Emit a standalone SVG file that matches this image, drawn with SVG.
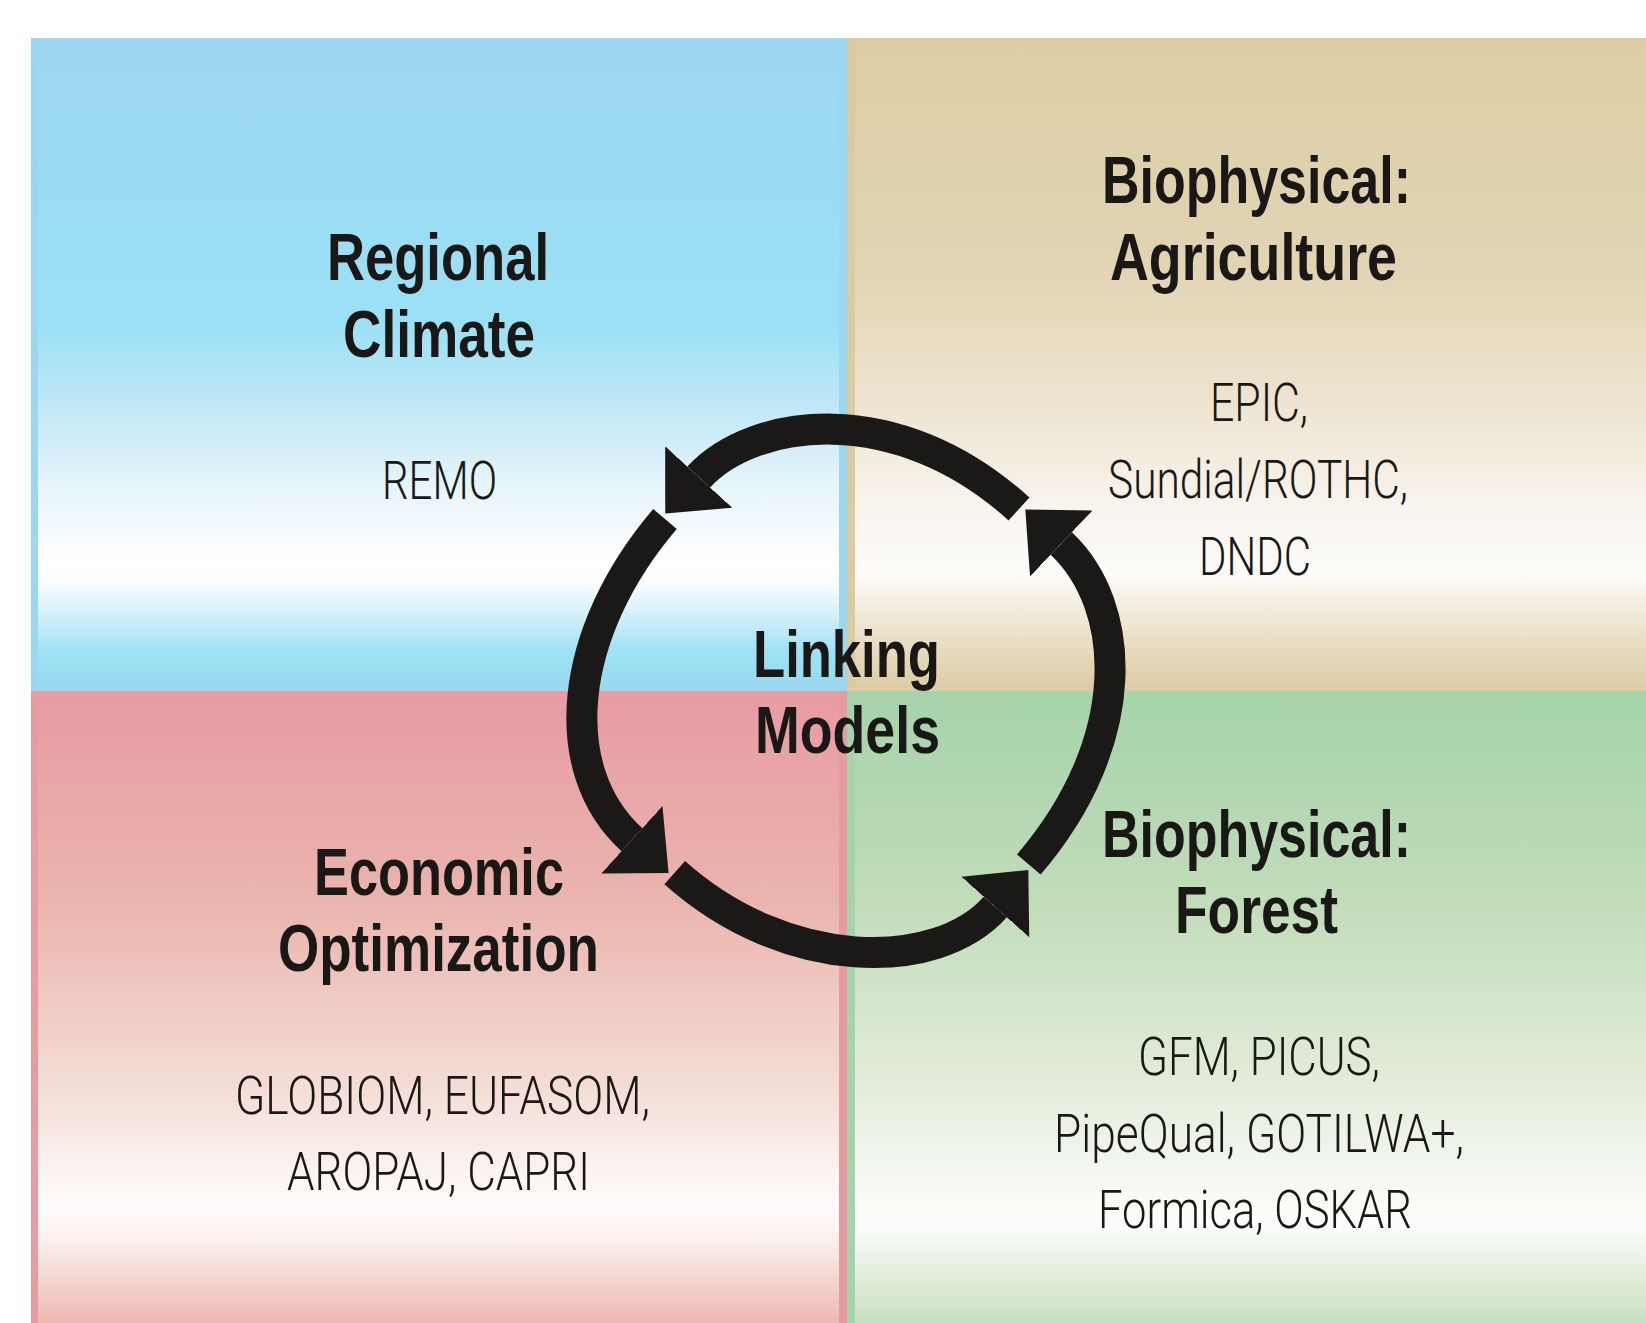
<svg xmlns="http://www.w3.org/2000/svg" width="1646" height="1323" viewBox="0 0 1646 1323">
<style>
.title{font-family:"Liberation Sans Narrow","Liberation Sans","DejaVu Sans Condensed",sans-serif;font-weight:700;font-size:67px;fill:#1a1816}
.list{font-family:Roboto,"Liberation Sans Narrow","Liberation Sans",sans-serif;font-weight:300;font-size:53px;fill:#1a1816}
.link{fill:none;stroke:#1b1917;stroke-width:31;stroke-linecap:butt}
</style>
<defs>
<linearGradient id="gBlue" x1="0" y1="0" x2="0" y2="1">
<stop offset="0" stop-color="#9dd7f1"/>
<stop offset="0.44" stop-color="#9be1f5"/>
<stop offset="0.56" stop-color="#c0e7f6"/>
<stop offset="0.69" stop-color="#e7f5fb"/>
<stop offset="0.80" stop-color="#ffffff"/>
<stop offset="0.83" stop-color="#fcfeff"/>
<stop offset="0.90" stop-color="#c6ebf8"/>
<stop offset="0.94" stop-color="#9de2f5"/>
<stop offset="1" stop-color="#9ad7ee"/>
</linearGradient>
<linearGradient id="gTan" x1="0" y1="0" x2="0" y2="1">
<stop offset="0" stop-color="#ddcda5"/>
<stop offset="0.35" stop-color="#e2d4b3"/>
<stop offset="0.55" stop-color="#ede3cf"/>
<stop offset="0.72" stop-color="#f8f4ee"/>
<stop offset="0.82" stop-color="#fdfcfa"/>
<stop offset="0.91" stop-color="#ece2cb"/>
<stop offset="1" stop-color="#dccaa2"/>
</linearGradient>
<linearGradient id="gPink" x1="0" y1="0" x2="0" y2="1">
<stop offset="0" stop-color="#e89ba3"/>
<stop offset="0.33" stop-color="#eab4ad"/>
<stop offset="0.65" stop-color="#f5e0da"/>
<stop offset="0.81" stop-color="#fefcfb"/>
<stop offset="0.86" stop-color="#fbf3f1"/>
<stop offset="1" stop-color="#eeb9b1"/>
</linearGradient>
<linearGradient id="gGreen" x1="0" y1="0" x2="0" y2="1">
<stop offset="0" stop-color="#a5d3aa"/>
<stop offset="0.33" stop-color="#c1dcb9"/>
<stop offset="0.62" stop-color="#e3ecda"/>
<stop offset="0.84" stop-color="#fdfefc"/>
<stop offset="1" stop-color="#c9dfc0"/>
</linearGradient>
<marker id="head" markerUnits="userSpaceOnUse" viewBox="0 -46 50 92" refX="0" refY="0" markerWidth="50" markerHeight="92" orient="auto">
<polygon points="0,-45.5 49.5,0 0,45.5" fill="#1b1917"/>
</marker>
</defs>
<rect width="1646" height="1323" fill="#ffffff"/>

<g id="regional-climate">
<rect x="31" y="38" width="816" height="653" fill="url(#gBlue)"/>
<rect x="31" y="38" width="7" height="653" fill="#9bd7ef"/>
<rect x="839" y="38" width="8" height="653" fill="#9bd7ef"/>
<text class="title" x="327" y="280" textLength="222" lengthAdjust="spacingAndGlyphs">Regional</text>
<text class="title" x="343" y="357" textLength="192" lengthAdjust="spacingAndGlyphs">Climate</text>
<text class="list" x="382" y="499" textLength="115" lengthAdjust="spacingAndGlyphs">REMO</text>
</g>

<g id="biophysical-agriculture">
<rect x="847" y="38" width="799" height="653" fill="url(#gTan)"/>
<rect x="847" y="38" width="8" height="653" fill="#dccaa1"/>
<text class="title" x="1102" y="203" textLength="309" lengthAdjust="spacingAndGlyphs">Biophysical:</text>
<text class="title" x="1110" y="280" textLength="287" lengthAdjust="spacingAndGlyphs">Agriculture</text>
<text class="list" x="1210" y="421" textLength="98" lengthAdjust="spacingAndGlyphs">EPIC,</text>
<text class="list" x="1108" y="498" textLength="300" lengthAdjust="spacingAndGlyphs">Sundial/ROTHC,</text>
<text class="list" x="1199" y="575" textLength="112" lengthAdjust="spacingAndGlyphs">DNDC</text>
</g>

<g id="economic-optimization">
<rect x="31" y="691" width="816" height="632" fill="url(#gPink)"/>
<rect x="31" y="691" width="7" height="632" fill="#e79ca5"/>
<rect x="839" y="691" width="8" height="632" fill="#e89aa3"/>
<text class="title" x="314" y="895" textLength="250" lengthAdjust="spacingAndGlyphs">Economic</text>
<text class="title" x="278" y="971" textLength="321" lengthAdjust="spacingAndGlyphs">Optimization</text>
<text class="list" x="235" y="1114" textLength="415" lengthAdjust="spacingAndGlyphs">GLOBIOM, EUFASOM,</text>
<text class="list" x="287" y="1190" textLength="303" lengthAdjust="spacingAndGlyphs">AROPAJ, CAPRI</text>
</g>

<g id="biophysical-forest">
<rect x="847" y="691" width="799" height="632" fill="url(#gGreen)"/>
<rect x="847" y="691" width="8" height="632" fill="#a5d3aa"/>
<text class="title" x="1102" y="857" textLength="309" lengthAdjust="spacingAndGlyphs">Biophysical:</text>
<text class="title" x="1175" y="933" textLength="163" lengthAdjust="spacingAndGlyphs">Forest</text>
<text class="list" x="1138" y="1075" textLength="242" lengthAdjust="spacingAndGlyphs">GFM, PICUS,</text>
<text class="list" x="1054" y="1152" textLength="410" lengthAdjust="spacingAndGlyphs">PipeQual, GOTILWA+,</text>
<text class="list" x="1098" y="1228" textLength="314" lengthAdjust="spacingAndGlyphs">Formica, OSKAR</text>
</g>

<g id="linking-models">
<text class="title" x="753" y="677" textLength="187" lengthAdjust="spacingAndGlyphs">Linking</text>
<text class="title" x="755" y="753" textLength="185" lengthAdjust="spacingAndGlyphs">Models</text>
</g>

<g id="connectors">
<path class="link" marker-end="url(#head)" d="M1019,509 C897.1,397.8 752.8,418 698.7,477"/>
<path class="link" marker-end="url(#head)" d="M665,519 C567.5,633 554.8,769.8 631.9,839.7"/>
<path class="link" marker-end="url(#head)" d="M674.7,872.6 C786.5,972.6 936.7,972.6 995.3,907"/>
<path class="link" marker-end="url(#head)" d="M1028.8,864.5 C1136,739 1126.7,605.3 1061.3,543.5"/>
</g>
</svg>
